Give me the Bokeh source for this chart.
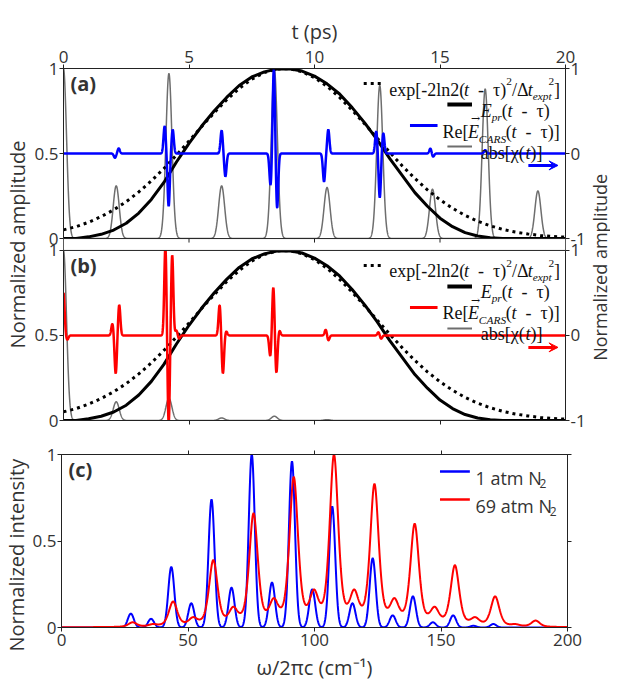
import numpy as np
from bokeh.plotting import figure
from bokeh.models import (Range1d, LinearAxis, FixedTicker, Label, Arrow, VeeHead,
                          CustomLabelingPolicy, BoxAnnotation, Span, Title)
from bokeh.layouts import row, column
from bokeh.embed import file_html
from bokeh.resources import INLINE

# ---------------- data ----------------
# (a),(b): probe envelopes, sampled every 0.5 ps
env_t = [0.0, 0.5, 1.0, 1.5, 2.0, 2.5, 3.0, 3.5, 4.0, 4.5, 5.0, 5.5, 6.0, 6.5, 7.0, 7.5,
         8.0, 8.5, 9.0, 9.5, 10.0, 10.5, 11.0, 11.5, 12.0, 12.5, 13.0, 13.5, 14.0, 14.5,
         15.0, 15.5, 16.0, 16.5, 17.0, 17.5, 18.0, 18.5, 19.0, 19.5, 20.0]
gauss_env = [0.051, 0.070, 0.096, 0.129, 0.169, 0.217, 0.274, 0.339, 0.412, 0.491, 0.573,
             0.658, 0.739, 0.816, 0.883, 0.937, 0.976, 0.997, 0.999, 0.981, 0.946, 0.895,
             0.830, 0.755, 0.674, 0.590, 0.507, 0.427, 0.353, 0.286, 0.228, 0.178, 0.136,
             0.102, 0.075, 0.054, 0.038, 0.027, 0.018, 0.012, 0.008]
probe_env = [0.0, 0.0, 0.01, 0.025, 0.05, 0.09, 0.15, 0.23, 0.33, 0.45, 0.56, 0.66, 0.75,
             0.83, 0.90, 0.95, 0.98, 0.997, 0.998, 0.985, 0.955, 0.91, 0.85, 0.77, 0.68,
             0.58, 0.47, 0.37, 0.27, 0.19, 0.12, 0.07, 0.035, 0.015, 0.005, 0.0, 0.0, 0.0,
             0.0, 0.0, 0.0]

# abs[chi(t)]: rotational revival peaks (ps) and heights
revival_t = [0.0, 2.1, 4.2, 6.3, 8.4, 10.5, 12.6, 14.7, 16.8, 18.9]
chi_1atm = [1.0, 0.31, 0.97, 0.31, 1.0, 0.30, 0.90, 0.29, 0.88, 0.28]
chi_69atm = [1.0, 0.11, 0.13, 0.015, 0.025, 0.005, 0.0, 0.0, 0.0, 0.0]
chi_width = 0.12

# Re[E_CARS(t - tau)]: oscillation lobes (ps) and signed amplitudes (right axis)
cars1_t = [2.05, 2.2, 4.03, 4.19, 4.35, 6.3, 6.45, 8.25, 8.38, 8.51, 10.38, 10.55,
           12.46, 12.6, 12.74, 14.62, 14.72, 16.8]
cars1_a = [-0.05, 0.06, 0.32, -0.62, 0.28, 0.27, -0.27, -0.38, 1.0, -0.65, -0.33, 0.28,
           0.26, -0.52, 0.24, 0.06, -0.04, 0.04]
cars69_t = [0.0, 0.15, 1.95, 2.08, 2.22, 4.06, 4.19, 4.33, 4.5, 4.6, 6.22, 6.35, 6.48,
            8.24, 8.36, 8.48, 8.6, 10.45, 10.55, 12.55, 12.65]
cars69_a = [0.5, -0.05, 0.14, -0.45, 0.36, 1.05, -1.05, 0.95, 0.06, -0.04, 0.36, -0.45,
            0.05, -0.25, 0.58, -0.45, 0.06, 0.07, -0.06, 0.04, -0.04]
lobe_width = 0.045

# (c): spectral line positions (cm-1) and observed peak intensities
shift_1atm = [27.4, 35.4, 43.4, 51.3, 59.3, 67.2, 75.2, 83.2, 91.1, 99.1, 107.0, 115.0,
              123.0, 130.9, 138.9, 146.8, 154.8, 162.8, 170.7]
int_1atm = [0.08, 0.05, 0.35, 0.14, 0.74, 0.23, 1.0, 0.26, 0.96, 0.22, 0.70, 0.14, 0.40,
            0.07, 0.18, 0.03, 0.07, 0.01, 0.02]
shift_69atm = [28.1, 36.1, 44.1, 52.0, 60.0, 67.9, 75.9, 83.9, 91.8, 99.8, 107.7, 115.7,
               123.7, 131.6, 139.6, 147.5, 155.5, 163.5, 171.4, 179.4, 187.4]
int_69atm = [0.03, 0.02, 0.15, 0.06, 0.39, 0.12, 0.66, 0.17, 0.87, 0.22, 1.0, 0.22, 0.83,
             0.17, 0.60, 0.12, 0.36, 0.06, 0.18, 0.02, 0.04]
fwhm_1atm, fwhm_69atm = 2.8, 4.0

# axis tick values / labels
t_ticks = [0, 5, 10, 15, 20]
w_ticks = [0, 50, 100, 150, 200]

# ---------------- curves ----------------
tt = np.linspace(0, 20, 4001)
ww = np.linspace(0, 200, 2001)


def gsum(x, pos, amp, sig):
    x = np.asarray(x)[:, None]
    pos = np.asarray(pos)[None, :]
    amp = np.asarray(amp)[None, :]
    return (amp * np.exp(-0.5 * ((x - pos) / sig) ** 2)).sum(axis=1)


def prof(d, fwhm, eta):
    g = np.exp(-4 * np.log(2) * (d / fwhm) ** 2)
    l = 1.0 / (1.0 + (2 * d / fwhm) ** 2)
    return (1 - eta) * g + eta * l


def spectrum(x, pos, obs, fwhm, eta):
    pos = np.asarray(pos)
    obs = np.asarray(obs)
    A = prof(pos[:, None] - pos[None, :], fwhm, eta)
    h = np.clip(np.linalg.solve(A, obs), 0, None)
    y = (h[None, :] * prof(x[:, None] - pos[None, :], fwhm, eta)).sum(axis=1)
    return y / y.max()


chi1 = gsum(tt, revival_t, chi_1atm, chi_width)
chi69 = gsum(tt, revival_t, chi_69atm, chi_width)
cars1 = gsum(tt, cars1_t, cars1_a, lobe_width)
cars69 = np.clip(gsum(tt, cars69_t, cars69_a, lobe_width), -1.1, 1.1)
spec1 = spectrum(ww, shift_1atm, int_1atm, fwhm_1atm, 0.0)
spec69 = spectrum(ww, shift_69atm, int_69atm, fwhm_69atm, 0.5)

# ---------------- page geometry (px) ----------------
FL, FR = 65, 575                  # frame left / right
AB_T, AB_B = 76, 428              # combined (a)+(b) frame top / bottom
C_T, C_B = 462, 635               # panel (c)
RA_L = 596                        # right title strip
SPLIT = 440
FW = FR - FL
GAP = 0.07                        # gap between (a) and (b), in panel units
U = (AB_B - AB_T) / (2 + GAP)     # px per panel unit
FH_C = C_B - C_T

# ---------------- style ----------------
SERIF = "Liberation Serif"
SANS = "Open Sans"
TXT = "#333333"
AXC = "#222222"
BLUE = "#0000ff"
RED = "#ff0000"
GRAY = "#6e6e6e"
NB = "\u00a0"
EN = "\u2002"

TW_R = {' ': 250, NB: 250, EN: 500, '(': 333, ')': 333, '-': 333, '/': 278, '2': 500,
        '[': 333, ']': 333, 'a': 444, 'b': 500, 'e': 444, 'l': 278, 'n': 500, 'p': 500,
        'R': 667, 's': 389, 'x': 500, 't': 278, 'E': 611, 'τ': 440, 'Δ': 612, 'χ': 520}
TW_I = {'t': 278, 'E': 611, 'p': 500, 'r': 389, 'e': 444, 'x': 444, 'C': 667, 'A': 611,
        'R': 611, 'S': 500}
OS_W = {'1': 572, '6': 572, '9': 572, ' ': 260, 'a': 556, 't': 331, 'm': 857, 'N': 748}

HIDE = ("try { for (let i = 0; i < indices.size; i++) { indices.unset(i) } } "
        "catch (e) {}\nreturn indices")


def tw(s, size, ital):
    tab = TW_I if ital else TW_R
    return sum(tab.get(c, 500) for c in s) * size / 1000.0


def ax_style(ax, ticks, overrides=None, labels=True, standoff=2):
    ax.ticker = FixedTicker(ticks=ticks)
    ax.major_tick_out = 4
    ax.major_tick_in = 0
    ax.minor_tick_out = 0
    ax.minor_tick_in = 0
    ax.axis_line_color = AXC
    ax.major_tick_line_color = AXC
    ax.major_label_text_font = SANS
    ax.major_label_text_font_size = "17px"
    ax.major_label_text_color = TXT
    ax.major_label_standoff = standoff
    if overrides:
        ax.major_label_overrides = overrides
    if not labels:
        ax.major_label_text_font_size = "1px"
        ax.major_label_standoff = 0
        ax.major_label_policy = CustomLabelingPolicy(code=HIDE)


def ax_title(ax, text, standoff, size="20px"):
    ax.axis_label = text
    ax.axis_label_text_font = SANS
    ax.axis_label_text_font_size = size
    ax.axis_label_text_font_style = "normal"
    ax.axis_label_text_color = TXT
    ax.axis_label_standoff = standoff


# ---------------- panels (a)+(b): one frame, two stacked y scales ----------------
fab = figure(width=RA_L - 8, height=SPLIT - 8, x_range=Range1d(0, 20),
             y_range=Range1d(0, 2 + GAP), x_axis_location="above",
             output_backend="svg", toolbar_location=None,
             min_border_left=FL - 8, min_border_right=RA_L - FR,
             min_border_top=AB_T - 8, min_border_bottom=SPLIT - AB_B)
fab.xgrid.visible = False
fab.ygrid.visible = False
fab.outline_line_color = AXC
fab.extra_y_ranges = {
    "a": Range1d(-(1 + GAP), 1),                  # panel (a), left scale
    "ar": Range1d(-3 - 2 * GAP, 1),               # panel (a), right scale
    "br": Range1d(-1, 3 + 2 * GAP),               # panel (b), right scale
}
yl_ticks = [0, 0.5, 1, 1.07, 1.57, 2.07]
ax_style(fab.yaxis[0], yl_ticks,
         {0: "0", 0.5: "0.5", 1: "1", 1.07: "0", 1.57: "0.5", 2.07: "1"}, standoff=1)
ax_title(fab.yaxis[0], "Normalized amplitude", 1)
rax = LinearAxis()
ax_style(rax, yl_ticks, {0: "-1", 0.5: "0", 1: "1", 1.07: "-1", 1.57: "0", 2.07: "1"},
         standoff=1)
fab.add_layout(rax, "right")
ax_style(fab.xaxis[0], t_ticks, {v: str(v) for v in t_ticks})
ax_title(fab.xaxis[0], "t (ps)", 3)
bax = LinearAxis()
ax_style(bax, t_ticks[1:-1], labels=False)
fab.add_layout(bax, "below")

PANELS = [
    # left range, right range, chi, cars, colour, label
    ("a", "ar", chi1, cars1, BLUE, "(a)"),
    ("default", "br", chi69, cars69, RED, "(b)"),
]

S, s = 18, 11.4


def rich(rng, x0, base, pieces, color="#111111"):
    x = x0
    starts = []
    for txt, size, ital, dy, back in pieces:
        x -= back
        starts.append(x)
        fab.add_layout(Label(x=x / FW * 20, y=1 - (base + dy) / U, y_range_name=rng,
                             text=txt, text_font=SERIF, text_font_size=f"{size}px",
                             text_font_style="italic" if ital else "normal",
                             text_align="left", text_baseline="alphabetic",
                             text_color=color))
        x += tw(txt, size, ital)
    return starts


MINUS = EN + "-" + EN
for lr, rr, chi, cars, col, tag in PANELS:
    fab.line(tt, chi, y_range_name=lr, line_color=GRAY, line_width=1.5)
    fab.line(env_t, gauss_env, y_range_name=lr, line_color="black", line_width=3,
             line_dash="3 4")
    fab.line(env_t, probe_env, y_range_name=lr, line_color="black", line_width=3)
    fab.line(tt, cars, y_range_name=rr, line_color=col, line_width=2.5)
    # legend swatches (px from the frame's right edge, px below the panel top)
    for r0, r1, yc, kw in [
            (205, 185, 15, dict(line_color="black", line_width=3, line_dash="3 4")),
            (120, 95, 36, dict(line_color="black", line_width=4)),
            (158, 130, 57, dict(line_color=col, line_width=3)),
            (120, 95, 78, dict(line_color=GRAY, line_width=2))]:
        fab.segment(x0=(FW - r0) / FW * 20, y0=1 - yc / U, x1=(FW - r1) / FW * 20,
                    y1=1 - yc / U, y_range_name=lr, **kw)
    rich(lr, FW - 179, 21,
         [("exp[-2ln2(", S, False, 0, 0), ("t", S, True, 0, 0), (MINUS + "τ)", S, False, 0, 0),
          ("2", s, False, -8, 0), ("/Δ", S, False, 0, 0), ("t", S, True, 0, 0),
          ("expt", s, True, 6, 0), ("2", s, False, -8, 3), ("]", S, False, 0, 0)])
    rich(lr, FW - 86, 42,
         [("E", S, True, 0, 0), ("pr", s, True, 6, 0), ("(", S, False, 0, 0),
          ("t", S, True, 0, 0), (MINUS + "τ)", S, False, 0, 0)])
    st = rich(lr, FW - 125, 63,
              [("Re[", S, False, 0, 0), ("E", S, True, 0, 0), ("CARS", s, True, 7, 0),
               ("(", S, False, 0, 0), ("t", S, True, 0, 0), (MINUS + "τ)]", S, False, 0, 0)])
    fab.add_layout(Label(x=(st[1] + 3) / FW * 20, y=1 - (63 - 13) / U, y_range_name=lr,
                         text="→", text_font="DejaVu Serif", text_font_size="11px",
                         text_baseline="alphabetic", text_color="#111111"))
    rich(lr, FW - 86, 84,
         [("abs[χ(", S, False, 0, 0), ("t", S, True, 0, 0), (")]", S, False, 0, 0)])
    fab.add_layout(Arrow(end=VeeHead(size=9, fill_color=col, line_color=col),
                         x_start=0.926 * 20, y_start=0.43, x_end=0.985 * 20, y_end=0.43,
                         y_range_name=lr, line_color=col, line_width=3))
    fab.add_layout(Label(x=7 / FW * 20, y=1 - 15 / U, y_range_name=lr, text=tag,
                         text_font=SANS, text_font_size="20px", text_font_style="bold",
                         text_baseline="middle", text_color=TXT))

# blank gap between (a) and (b) with its two frame edges and the ticks of (a)
fab.add_layout(BoxAnnotation(bottom=1, top=1 + GAP, fill_color="white", fill_alpha=1.0,
                             line_alpha=0))
fab.add_layout(Span(location=1, dimension="width", line_color=AXC, line_width=1))
fab.add_layout(Span(location=1 + GAP, dimension="width", line_color=AXC, line_width=1))
fab.segment(x0=t_ticks[1:-1], y0=1 + GAP, x1=t_ticks[1:-1], y1=1 + GAP - 4 / U,
            line_color=AXC, line_width=1, level="overlay")

# ---------------- right-hand title strip ----------------
ra = figure(width=618 - RA_L, height=SPLIT - 8, x_range=Range1d(0, 1), y_range=Range1d(0, 1),
            x_axis_type=None, y_axis_type=None, output_backend="svg",
            toolbar_location=None, min_border=0)
ra.outline_line_color = None
ra.add_layout(Label(x=0.5, y=1 - (252 - 8) / (SPLIT - 8), text="Normalized amplitude",
                    angle=90, angle_units="deg", text_align="center",
                    text_baseline="middle", text_font=SANS, text_font_size="18px",
                    text_color=TXT))

# ---------------- panel (c) ----------------
fc = figure(width=610, height=692 - SPLIT, x_range=Range1d(0, 200), y_range=Range1d(0, 1),
            output_backend="svg", toolbar_location=None,
            min_border_left=FL - 8, min_border_right=618 - FR,
            min_border_top=C_T - SPLIT, min_border_bottom=692 - C_B)
fc.xgrid.visible = False
fc.ygrid.visible = False
fc.outline_line_color = AXC
fc.line(ww, spec1, line_color=BLUE, line_width=2)
fc.line(ww, spec69, line_color=RED, line_width=2)
ax_style(fc.xaxis[0], w_ticks, {v: str(v) for v in w_ticks})
ax_style(fc.yaxis[0], [0, 0.5, 1], {0: "0", 0.5: "0.5", 1: "1"}, standoff=1)
ax_title(fc.xaxis[0], "ω/2πc (cm⁻¹)", 5)
fc.add_layout(Title(text="Normalized intensity", align="left", offset=-24, standoff=0,
                    text_font=SANS, text_font_size="20px", text_font_style="normal",
                    text_color=TXT), "left")
tax = LinearAxis()
ax_style(tax, w_ticks[1:-1], labels=False)
fc.add_layout(tax, "above")
rcax = LinearAxis()
ax_style(rcax, [0, 0.5, 1], labels=False)
fc.add_layout(rcax, "right")
fc.add_layout(Label(x=7 / FW * 200, y=1 - 15 / FH_C, text="(c)", text_font=SANS,
                    text_font_size="20px", text_font_style="bold",
                    text_baseline="middle", text_color=TXT))
for yc, col, lab in [(17, BLUE, "1 atm N"), (45, RED, "69 atm N")]:
    fc.segment(x0=0.748 * 200, y0=1 - yc / FH_C, x1=0.807 * 200, y1=1 - yc / FH_C,
               line_color=col, line_width=2.5)
    fc.add_layout(Label(x=0.818 * 200, y=1 - (yc + 6.5) / FH_C, text=lab, text_font=SANS,
                        text_font_size="18px", text_baseline="alphabetic", text_color=TXT))
    wpx = sum(OS_W.get(c, 550) for c in lab) * 18 / 1000.0
    fc.add_layout(Label(x=(0.818 * FW + wpx) / FW * 200, y=1 - (yc + 12) / FH_C, text="2",
                        text_font=SANS, text_font_size="12px", text_baseline="alphabetic",
                        text_color=TXT))

layout = column(row(fab, ra, spacing=0), fc, spacing=0)
open("out.html", "w").write(file_html(layout, INLINE, title="CARS"))
